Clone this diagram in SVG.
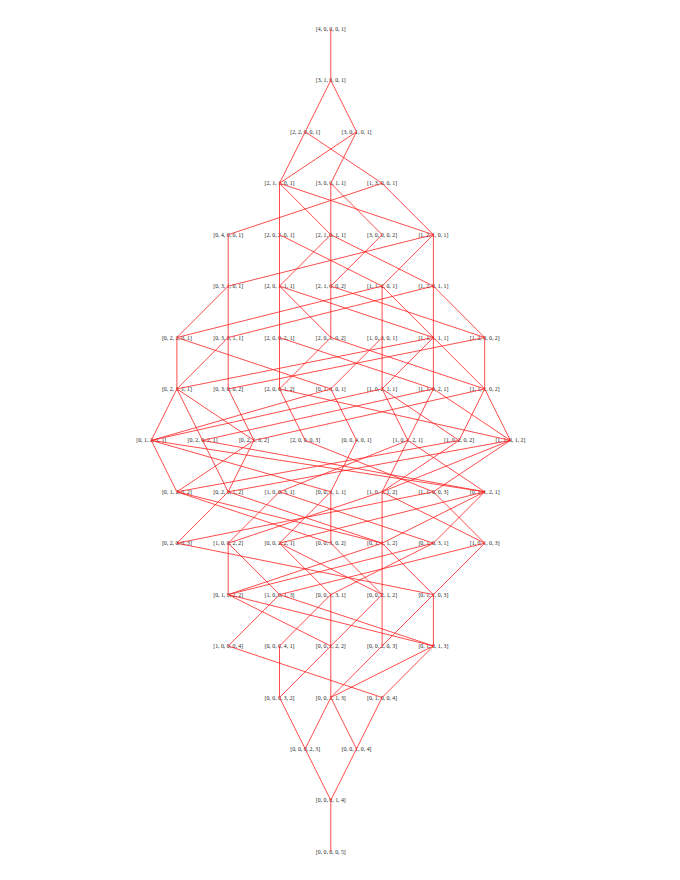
<svg xmlns="http://www.w3.org/2000/svg" width="680" height="880" viewBox="0 0 680 880">
<style>
.n text{font-family:"Liberation Serif","Times New Roman",serif;font-size:5.8px;fill:#222;text-anchor:middle}
.e line{stroke:#ff2020;stroke-width:0.8}
</style>
<rect width="680" height="880" fill="#fff"/>
<g class="n">
<g id="n40001"><text x="330.8" y="31">[4, 0, 0, 0, 1]</text></g>
<g id="n31001"><text x="330.8" y="82.4">[3, 1, 0, 0, 1]</text></g>
<g id="n22001"><text x="305.2" y="133.8">[2, 2, 0, 0, 1]</text></g>
<g id="n30101"><text x="356.5" y="133.8">[3, 0, 1, 0, 1]</text></g>
<g id="n21101"><text x="279.5" y="185.3">[2, 1, 1, 0, 1]</text></g>
<g id="n30011"><text x="330.8" y="185.3">[3, 0, 0, 1, 1]</text></g>
<g id="n13001"><text x="382.1" y="185.3">[1, 3, 0, 0, 1]</text></g>
<g id="n04001"><text x="228.2" y="236.7">[0, 4, 0, 0, 1]</text></g>
<g id="n20201"><text x="279.5" y="236.7">[2, 0, 2, 0, 1]</text></g>
<g id="n21011"><text x="330.8" y="236.7">[2, 1, 0, 1, 1]</text></g>
<g id="n30002"><text x="382.1" y="236.7">[3, 0, 0, 0, 2]</text></g>
<g id="n12101"><text x="433.4" y="236.7">[1, 2, 1, 0, 1]</text></g>
<g id="n03101"><text x="228.2" y="288.1">[0, 3, 1, 0, 1]</text></g>
<g id="n20111"><text x="279.5" y="288.1">[2, 0, 1, 1, 1]</text></g>
<g id="n21002"><text x="330.8" y="288.1">[2, 1, 0, 0, 2]</text></g>
<g id="n11201"><text x="382.1" y="288.1">[1, 1, 2, 0, 1]</text></g>
<g id="n12011"><text x="433.4" y="288.1">[1, 2, 0, 1, 1]</text></g>
<g id="n02201"><text x="176.9" y="339.5">[0, 2, 2, 0, 1]</text></g>
<g id="n03011"><text x="228.2" y="339.5">[0, 3, 0, 1, 1]</text></g>
<g id="n20021"><text x="279.5" y="339.5">[2, 0, 0, 2, 1]</text></g>
<g id="n20102"><text x="330.8" y="339.5">[2, 0, 1, 0, 2]</text></g>
<g id="n10301"><text x="382.1" y="339.5">[1, 0, 3, 0, 1]</text></g>
<g id="n11111"><text x="433.4" y="339.5">[1, 1, 1, 1, 1]</text></g>
<g id="n12002"><text x="484.7" y="339.5">[1, 2, 0, 0, 2]</text></g>
<g id="n02111"><text x="176.9" y="390.9">[0, 2, 1, 1, 1]</text></g>
<g id="n03002"><text x="228.2" y="390.9">[0, 3, 0, 0, 2]</text></g>
<g id="n20012"><text x="279.5" y="390.9">[2, 0, 0, 1, 2]</text></g>
<g id="n01301"><text x="330.8" y="390.9">[0, 1, 3, 0, 1]</text></g>
<g id="n10211"><text x="382.1" y="390.9">[1, 0, 2, 1, 1]</text></g>
<g id="n11021"><text x="433.4" y="390.9">[1, 1, 0, 2, 1]</text></g>
<g id="n11102"><text x="484.7" y="390.9">[1, 1, 1, 0, 2]</text></g>
<g id="n01211"><text x="151.3" y="442.4">[0, 1, 2, 1, 1]</text></g>
<g id="n02021"><text x="202.6" y="442.4">[0, 2, 0, 2, 1]</text></g>
<g id="n02102"><text x="253.9" y="442.4">[0, 2, 1, 0, 2]</text></g>
<g id="n20003"><text x="305.2" y="442.4">[2, 0, 0, 0, 3]</text></g>
<g id="n00401"><text x="356.5" y="442.4">[0, 0, 4, 0, 1]</text></g>
<g id="n10121"><text x="407.8" y="442.4">[1, 0, 1, 2, 1]</text></g>
<g id="n10202"><text x="459.1" y="442.4">[1, 0, 2, 0, 2]</text></g>
<g id="n11012"><text x="510.4" y="442.4">[1, 1, 0, 1, 2]</text></g>
<g id="n01202"><text x="176.9" y="493.8">[0, 1, 2, 0, 2]</text></g>
<g id="n02012"><text x="228.2" y="493.8">[0, 2, 0, 1, 2]</text></g>
<g id="n10031"><text x="279.5" y="493.8">[1, 0, 0, 3, 1]</text></g>
<g id="n00311"><text x="330.8" y="493.8">[0, 0, 3, 1, 1]</text></g>
<g id="n10112"><text x="382.1" y="493.8">[1, 0, 1, 1, 2]</text></g>
<g id="n11003"><text x="433.4" y="493.8">[1, 1, 0, 0, 3]</text></g>
<g id="n01121"><text x="484.7" y="493.8">[0, 1, 1, 2, 1]</text></g>
<g id="n02003"><text x="176.9" y="545.2">[0, 2, 0, 0, 3]</text></g>
<g id="n10022"><text x="228.2" y="545.2">[1, 0, 0, 2, 2]</text></g>
<g id="n00221"><text x="279.5" y="545.2">[0, 0, 2, 2, 1]</text></g>
<g id="n00302"><text x="330.8" y="545.2">[0, 0, 3, 0, 2]</text></g>
<g id="n01112"><text x="382.1" y="545.2">[0, 1, 1, 1, 2]</text></g>
<g id="n01031"><text x="433.4" y="545.2">[0, 1, 0, 3, 1]</text></g>
<g id="n10103"><text x="484.7" y="545.2">[1, 0, 1, 0, 3]</text></g>
<g id="n01022"><text x="228.2" y="596.6">[0, 1, 0, 2, 2]</text></g>
<g id="n10013"><text x="279.5" y="596.6">[1, 0, 0, 1, 3]</text></g>
<g id="n00131"><text x="330.8" y="596.6">[0, 0, 1, 3, 1]</text></g>
<g id="n00212"><text x="382.1" y="596.6">[0, 0, 2, 1, 2]</text></g>
<g id="n01103"><text x="433.4" y="596.6">[0, 1, 1, 0, 3]</text></g>
<g id="n10004"><text x="228.2" y="648">[1, 0, 0, 0, 4]</text></g>
<g id="n00041"><text x="279.5" y="648">[0, 0, 0, 4, 1]</text></g>
<g id="n00122"><text x="330.8" y="648">[0, 0, 1, 2, 2]</text></g>
<g id="n00203"><text x="382.1" y="648">[0, 0, 2, 0, 3]</text></g>
<g id="n01013"><text x="433.4" y="648">[0, 1, 0, 1, 3]</text></g>
<g id="n00032"><text x="279.5" y="699.5">[0, 0, 0, 3, 2]</text></g>
<g id="n00113"><text x="330.8" y="699.5">[0, 0, 1, 1, 3]</text></g>
<g id="n01004"><text x="382.1" y="699.5">[0, 1, 0, 0, 4]</text></g>
<g id="n00023"><text x="305.2" y="750.9">[0, 0, 0, 2, 3]</text></g>
<g id="n00104"><text x="356.5" y="750.9">[0, 0, 1, 0, 4]</text></g>
<g id="n00014"><text x="330.8" y="802.3">[0, 0, 0, 1, 4]</text></g>
<g id="n00005"><text x="330.8" y="853.7">[0, 0, 0, 0, 5]</text></g>
</g>
<g id="edges" class="e">
<line x1="330.8" y1="29" x2="330.8" y2="80.4"/>
<line x1="330.8" y1="80.4" x2="305.2" y2="131.8"/>
<line x1="330.8" y1="80.4" x2="356.5" y2="131.8"/>
<line x1="305.2" y1="131.8" x2="382.1" y2="183.3"/>
<line x1="305.2" y1="131.8" x2="279.5" y2="183.3"/>
<line x1="356.5" y1="131.8" x2="279.5" y2="183.3"/>
<line x1="356.5" y1="131.8" x2="330.8" y2="183.3"/>
<line x1="279.5" y1="183.3" x2="433.4" y2="234.7"/>
<line x1="279.5" y1="183.3" x2="279.5" y2="234.7"/>
<line x1="279.5" y1="183.3" x2="330.8" y2="234.7"/>
<line x1="330.8" y1="183.3" x2="330.8" y2="234.7"/>
<line x1="330.8" y1="183.3" x2="382.1" y2="234.7"/>
<line x1="382.1" y1="183.3" x2="228.2" y2="234.7"/>
<line x1="382.1" y1="183.3" x2="433.4" y2="234.7"/>
<line x1="228.2" y1="234.7" x2="228.2" y2="286.1"/>
<line x1="279.5" y1="234.7" x2="382.1" y2="286.1"/>
<line x1="279.5" y1="234.7" x2="279.5" y2="286.1"/>
<line x1="330.8" y1="234.7" x2="433.4" y2="286.1"/>
<line x1="330.8" y1="234.7" x2="279.5" y2="286.1"/>
<line x1="330.8" y1="234.7" x2="330.8" y2="286.1"/>
<line x1="382.1" y1="234.7" x2="330.8" y2="286.1"/>
<line x1="433.4" y1="234.7" x2="228.2" y2="286.1"/>
<line x1="433.4" y1="234.7" x2="382.1" y2="286.1"/>
<line x1="433.4" y1="234.7" x2="433.4" y2="286.1"/>
<line x1="228.2" y1="286.1" x2="176.9" y2="337.5"/>
<line x1="228.2" y1="286.1" x2="228.2" y2="337.5"/>
<line x1="279.5" y1="286.1" x2="433.4" y2="337.5"/>
<line x1="279.5" y1="286.1" x2="279.5" y2="337.5"/>
<line x1="279.5" y1="286.1" x2="330.8" y2="337.5"/>
<line x1="330.8" y1="286.1" x2="484.7" y2="337.5"/>
<line x1="330.8" y1="286.1" x2="330.8" y2="337.5"/>
<line x1="382.1" y1="286.1" x2="176.9" y2="337.5"/>
<line x1="382.1" y1="286.1" x2="382.1" y2="337.5"/>
<line x1="382.1" y1="286.1" x2="433.4" y2="337.5"/>
<line x1="433.4" y1="286.1" x2="228.2" y2="337.5"/>
<line x1="433.4" y1="286.1" x2="433.4" y2="337.5"/>
<line x1="433.4" y1="286.1" x2="484.7" y2="337.5"/>
<line x1="176.9" y1="337.5" x2="330.8" y2="388.9"/>
<line x1="176.9" y1="337.5" x2="176.9" y2="388.9"/>
<line x1="228.2" y1="337.5" x2="176.9" y2="388.9"/>
<line x1="228.2" y1="337.5" x2="228.2" y2="388.9"/>
<line x1="279.5" y1="337.5" x2="433.4" y2="388.9"/>
<line x1="279.5" y1="337.5" x2="279.5" y2="388.9"/>
<line x1="330.8" y1="337.5" x2="484.7" y2="388.9"/>
<line x1="330.8" y1="337.5" x2="279.5" y2="388.9"/>
<line x1="382.1" y1="337.5" x2="330.8" y2="388.9"/>
<line x1="382.1" y1="337.5" x2="382.1" y2="388.9"/>
<line x1="433.4" y1="337.5" x2="176.9" y2="388.9"/>
<line x1="433.4" y1="337.5" x2="382.1" y2="388.9"/>
<line x1="433.4" y1="337.5" x2="433.4" y2="388.9"/>
<line x1="433.4" y1="337.5" x2="484.7" y2="388.9"/>
<line x1="484.7" y1="337.5" x2="228.2" y2="388.9"/>
<line x1="484.7" y1="337.5" x2="484.7" y2="388.9"/>
<line x1="176.9" y1="388.9" x2="151.3" y2="440.4"/>
<line x1="176.9" y1="388.9" x2="202.6" y2="440.4"/>
<line x1="176.9" y1="388.9" x2="253.9" y2="440.4"/>
<line x1="228.2" y1="388.9" x2="253.9" y2="440.4"/>
<line x1="279.5" y1="388.9" x2="510.4" y2="440.4"/>
<line x1="279.5" y1="388.9" x2="305.2" y2="440.4"/>
<line x1="330.8" y1="388.9" x2="356.5" y2="440.4"/>
<line x1="330.8" y1="388.9" x2="151.3" y2="440.4"/>
<line x1="382.1" y1="388.9" x2="151.3" y2="440.4"/>
<line x1="382.1" y1="388.9" x2="407.8" y2="440.4"/>
<line x1="382.1" y1="388.9" x2="459.1" y2="440.4"/>
<line x1="433.4" y1="388.9" x2="202.6" y2="440.4"/>
<line x1="433.4" y1="388.9" x2="407.8" y2="440.4"/>
<line x1="433.4" y1="388.9" x2="510.4" y2="440.4"/>
<line x1="484.7" y1="388.9" x2="253.9" y2="440.4"/>
<line x1="484.7" y1="388.9" x2="459.1" y2="440.4"/>
<line x1="484.7" y1="388.9" x2="510.4" y2="440.4"/>
<line x1="151.3" y1="440.4" x2="330.8" y2="491.8"/>
<line x1="151.3" y1="440.4" x2="484.7" y2="491.8"/>
<line x1="151.3" y1="440.4" x2="176.9" y2="491.8"/>
<line x1="202.6" y1="440.4" x2="484.7" y2="491.8"/>
<line x1="202.6" y1="440.4" x2="228.2" y2="491.8"/>
<line x1="253.9" y1="440.4" x2="176.9" y2="491.8"/>
<line x1="253.9" y1="440.4" x2="228.2" y2="491.8"/>
<line x1="305.2" y1="440.4" x2="433.4" y2="491.8"/>
<line x1="356.5" y1="440.4" x2="330.8" y2="491.8"/>
<line x1="407.8" y1="440.4" x2="484.7" y2="491.8"/>
<line x1="407.8" y1="440.4" x2="279.5" y2="491.8"/>
<line x1="407.8" y1="440.4" x2="382.1" y2="491.8"/>
<line x1="459.1" y1="440.4" x2="176.9" y2="491.8"/>
<line x1="459.1" y1="440.4" x2="382.1" y2="491.8"/>
<line x1="510.4" y1="440.4" x2="228.2" y2="491.8"/>
<line x1="510.4" y1="440.4" x2="382.1" y2="491.8"/>
<line x1="510.4" y1="440.4" x2="433.4" y2="491.8"/>
<line x1="176.9" y1="491.8" x2="330.8" y2="543.2"/>
<line x1="176.9" y1="491.8" x2="382.1" y2="543.2"/>
<line x1="228.2" y1="491.8" x2="382.1" y2="543.2"/>
<line x1="228.2" y1="491.8" x2="176.9" y2="543.2"/>
<line x1="279.5" y1="491.8" x2="433.4" y2="543.2"/>
<line x1="279.5" y1="491.8" x2="228.2" y2="543.2"/>
<line x1="330.8" y1="491.8" x2="279.5" y2="543.2"/>
<line x1="330.8" y1="491.8" x2="330.8" y2="543.2"/>
<line x1="382.1" y1="491.8" x2="382.1" y2="543.2"/>
<line x1="382.1" y1="491.8" x2="228.2" y2="543.2"/>
<line x1="382.1" y1="491.8" x2="484.7" y2="543.2"/>
<line x1="433.4" y1="491.8" x2="176.9" y2="543.2"/>
<line x1="433.4" y1="491.8" x2="484.7" y2="543.2"/>
<line x1="484.7" y1="491.8" x2="279.5" y2="543.2"/>
<line x1="484.7" y1="491.8" x2="433.4" y2="543.2"/>
<line x1="484.7" y1="491.8" x2="382.1" y2="543.2"/>
<line x1="176.9" y1="543.2" x2="433.4" y2="594.6"/>
<line x1="228.2" y1="543.2" x2="228.2" y2="594.6"/>
<line x1="228.2" y1="543.2" x2="279.5" y2="594.6"/>
<line x1="279.5" y1="543.2" x2="330.8" y2="594.6"/>
<line x1="279.5" y1="543.2" x2="382.1" y2="594.6"/>
<line x1="330.8" y1="543.2" x2="382.1" y2="594.6"/>
<line x1="382.1" y1="543.2" x2="382.1" y2="594.6"/>
<line x1="382.1" y1="543.2" x2="228.2" y2="594.6"/>
<line x1="382.1" y1="543.2" x2="433.4" y2="594.6"/>
<line x1="433.4" y1="543.2" x2="330.8" y2="594.6"/>
<line x1="433.4" y1="543.2" x2="228.2" y2="594.6"/>
<line x1="484.7" y1="543.2" x2="433.4" y2="594.6"/>
<line x1="484.7" y1="543.2" x2="279.5" y2="594.6"/>
<line x1="228.2" y1="594.6" x2="330.8" y2="646"/>
<line x1="228.2" y1="594.6" x2="433.4" y2="646"/>
<line x1="279.5" y1="594.6" x2="433.4" y2="646"/>
<line x1="279.5" y1="594.6" x2="228.2" y2="646"/>
<line x1="330.8" y1="594.6" x2="279.5" y2="646"/>
<line x1="330.8" y1="594.6" x2="330.8" y2="646"/>
<line x1="382.1" y1="594.6" x2="330.8" y2="646"/>
<line x1="382.1" y1="594.6" x2="382.1" y2="646"/>
<line x1="433.4" y1="594.6" x2="382.1" y2="646"/>
<line x1="433.4" y1="594.6" x2="433.4" y2="646"/>
<line x1="228.2" y1="646" x2="382.1" y2="697.5"/>
<line x1="279.5" y1="646" x2="279.5" y2="697.5"/>
<line x1="330.8" y1="646" x2="279.5" y2="697.5"/>
<line x1="330.8" y1="646" x2="330.8" y2="697.5"/>
<line x1="382.1" y1="646" x2="330.8" y2="697.5"/>
<line x1="433.4" y1="646" x2="330.8" y2="697.5"/>
<line x1="433.4" y1="646" x2="382.1" y2="697.5"/>
<line x1="279.5" y1="697.5" x2="305.2" y2="748.9"/>
<line x1="330.8" y1="697.5" x2="305.2" y2="748.9"/>
<line x1="330.8" y1="697.5" x2="356.5" y2="748.9"/>
<line x1="382.1" y1="697.5" x2="356.5" y2="748.9"/>
<line x1="305.2" y1="748.9" x2="330.8" y2="800.3"/>
<line x1="356.5" y1="748.9" x2="330.8" y2="800.3"/>
<line x1="330.8" y1="800.3" x2="330.8" y2="851.7"/>
</g>
</svg>
